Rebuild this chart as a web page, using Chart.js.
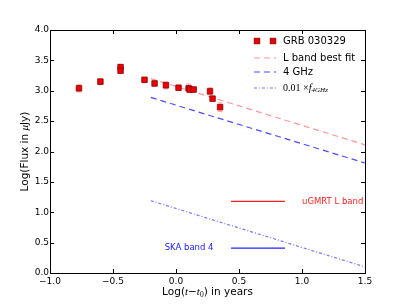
<!DOCTYPE html>
<html>
<head>
<meta charset="utf-8">
<script src="https://cdn.jsdelivr.net/npm/chart.js@4.4.0/dist/chart.umd.min.js"></script>
<style>
  html, body { margin: 0; padding: 0; background: #fff; }
  #wrap { width: 405px; height: 304px; }
</style>
</head>
<body>
<div id="wrap"><canvas id="grbChart" width="405" height="304"></canvas></div>
<script>
// GRB 030329 L band points: log(t - t0) in years, log flux in uJy
const grbX = [-0.77, -0.60, -0.44, -0.44, -0.25, -0.17, -0.08, 0.02, 0.10, 0.11, 0.14, 0.27, 0.29, 0.35];
const grbY = [3.04, 3.15, 3.39, 3.33, 3.18, 3.12, 3.09, 3.05, 3.04, 3.02, 3.02, 2.99, 2.87, 2.73];
const grbErr = [0.06, 0.05, 0.04, 0.04, 0.04, 0.04, 0.06, 0.04, 0.07, 0.05, 0.04, 0.06, 0.04, 0.07];

// model lines (start / end)
const lineX = [-0.2, 1.5];
const lbandFitY = [3.20, 2.11];
const ghz4Y = [2.89, 1.81];
const ghz4ScaledY = [1.19, 0.10];

// sensitivity limits
const limitX = [0.437, 0.865];
const ugmrtY = 1.18;
const skaY = 0.41;

const xTicks = [-1.0, -0.5, 0.0, 0.5, 1.0, 1.5];
const yTicks = [0.0, 0.5, 1.0, 1.5, 2.0, 2.5, 3.0, 3.5, 4.0];

const SANS = '"DejaVu Sans", sans-serif';
const SERIF = '"Liberation Serif", serif';

function fmt(v) {
  return v.toFixed(1).replace('-', '\u2212');
}

function pairs(xs, ys) {
  return xs.map((x, i) => ({ x: x, y: ys[i] }));
}

// draw text made of several runs (font changes, subscripts)
function drawRuns(ctx, runs, x, y) {
  let total = 0;
  runs.forEach(r => { ctx.font = r.font; total += ctx.measureText(r.text).width; });
  let cx = x - total / 2;
  ctx.textAlign = 'left';
  ctx.textBaseline = 'alphabetic';
  runs.forEach(r => {
    ctx.font = r.font;
    ctx.fillText(r.text, cx, y + (r.dy || 0));
    cx += ctx.measureText(r.text).width;
  });
}

function runsLeft(ctx, runs, x, y) {
  ctx.textAlign = 'left';
  ctx.textBaseline = 'middle';
  let cx = x;
  runs.forEach(r => {
    ctx.font = r.font;
    ctx.fillText(r.text, cx, y + (r.dy || 0));
    cx += ctx.measureText(r.text).width;
  });
}

const extras = {
  id: 'extras',
  beforeDatasetsDraw(chart) {
    const ctx = chart.ctx;
    const xs = chart.scales.x, ys = chart.scales.y;
    ctx.save();
    ctx.strokeStyle = 'rgba(255, 90, 90, 0.55)';
    ctx.lineWidth = 1;
    grbX.forEach((x, i) => {
      const px = xs.getPixelForValue(x);
      const top = ys.getPixelForValue(grbY[i] + grbErr[i]);
      const bot = ys.getPixelForValue(grbY[i] - grbErr[i]);
      ctx.beginPath();
      ctx.moveTo(px, top); ctx.lineTo(px, bot);
      ctx.moveTo(px - 2.5, top); ctx.lineTo(px + 2.5, top);
      ctx.moveTo(px - 2.5, bot); ctx.lineTo(px + 2.5, bot);
      ctx.stroke();
    });
    ctx.restore();
  },
  afterDraw(chart) {
    const ctx = chart.ctx;
    const a = chart.chartArea;
    const xs = chart.scales.x, ys = chart.scales.y;
    ctx.save();

    // frame and inward ticks on all sides
    ctx.strokeStyle = '#000';
    ctx.lineWidth = 1;
    ctx.strokeRect(Math.round(a.left) + 0.5, Math.round(a.top) + 0.5,
      Math.round(a.right - a.left), Math.round(a.bottom - a.top));
    ctx.beginPath();
    xTicks.forEach(v => {
      const px = Math.round(xs.getPixelForValue(v)) + 0.5;
      ctx.moveTo(px, a.bottom); ctx.lineTo(px, a.bottom - 4);
      ctx.moveTo(px, a.top); ctx.lineTo(px, a.top + 4);
    });
    yTicks.forEach(v => {
      const py = Math.round(ys.getPixelForValue(v)) + 0.5;
      ctx.moveTo(a.left, py); ctx.lineTo(a.left + 4, py);
      ctx.moveTo(a.right, py); ctx.lineTo(a.right - 4, py);
    });
    ctx.stroke();

    // axis titles
    ctx.fillStyle = '#000';
    const tFont = '10.5px ' + SANS;
    const mFont = 'italic 11px ' + SERIF;
    drawRuns(ctx, [
      { text: 'Log(', font: tFont },
      { text: 't', font: mFont },
      { text: '\u2212', font: tFont },
      { text: 't', font: mFont },
      { text: '0', font: '7.5px ' + SERIF, dy: 2 },
      { text: ') in years', font: tFont }
    ], (a.left + a.right) / 2, 295);

    ctx.save();
    ctx.translate(28, (a.top + a.bottom) / 2);
    ctx.rotate(-Math.PI / 2);
    drawRuns(ctx, [
      { text: 'Log(Flux in ', font: tFont },
      { text: '\u03bc', font: mFont },
      { text: 'Jy)', font: tFont }
    ], 0, 0);
    ctx.restore();

    // legend
    const mx = a.right - 108;
    const tx = a.right - 82;
    const rows = [a.top + 11, a.top + 28, a.top + 42, a.top + 58];
    ctx.fillStyle = '#ee0000';
    ctx.strokeStyle = '#880000';
    ctx.lineWidth = 0.8;
    [mx, mx + 16].forEach(x => {
      ctx.fillRect(x - 2.8, rows[0] - 2.8, 5.6, 5.6);
      ctx.strokeRect(x - 2.8, rows[0] - 2.8, 5.6, 5.6);
    });
    const legLines = [
      { color: 'rgba(255, 80, 80, 0.6)', dash: [6, 4] },
      { color: 'rgba(30, 30, 255, 0.8)', dash: [6, 4] },
      { color: 'rgba(60, 60, 255, 0.7)', dash: [3, 2, 1, 2] }
    ];
    legLines.forEach((l, i) => {
      ctx.strokeStyle = l.color;
      ctx.lineWidth = 1.2;
      ctx.setLineDash(l.dash);
      ctx.beginPath();
      ctx.moveTo(mx - 3, rows[i + 1]);
      ctx.lineTo(mx + 19, rows[i + 1]);
      ctx.stroke();
    });
    ctx.setLineDash([]);
    ctx.fillStyle = '#000';
    const lFont = '10px ' + SANS;
    runsLeft(ctx, [{ text: 'GRB 030329', font: lFont }], tx, rows[0]);
    runsLeft(ctx, [{ text: 'L band best fit', font: lFont }], tx, rows[1]);
    runsLeft(ctx, [{ text: '4 GHz', font: lFont }], tx, rows[2]);
    runsLeft(ctx, [
      { text: '0.01 \u00d7', font: '10px ' + SERIF },
      { text: 'f', font: 'italic 10.5px ' + SERIF },
      { text: '4GHz', font: 'italic 7px ' + SERIF, dy: 2 }
    ], tx, rows[3]);

    // limit labels
    ctx.font = '8.5px ' + SANS;
    ctx.textAlign = 'left';
    ctx.textBaseline = 'middle';
    ctx.fillStyle = '#ff2020';
    ctx.fillText('uGMRT L band', xs.getPixelForValue(1.0), ys.getPixelForValue(ugmrtY));
    ctx.fillStyle = '#2020ff';
    ctx.fillText('SKA band 4', xs.getPixelForValue(-0.09), ys.getPixelForValue(skaY));

    ctx.restore();
  }
};

new Chart(document.getElementById('grbChart'), {
  type: 'scatter',
  data: {
    datasets: [
      {
        label: 'GRB 030329',
        data: pairs(grbX, grbY),
        pointStyle: 'rect',
        pointRadius: 3.9,
        backgroundColor: '#ee0000',
        borderColor: '#880000',
        borderWidth: 0.8,
        order: 0
      },
      {
        label: 'L band best fit',
        data: pairs(lineX, lbandFitY),
        showLine: true,
        pointRadius: 0,
        borderColor: 'rgba(255, 80, 80, 0.6)',
        borderWidth: 1.2,
        borderDash: [6, 4],
        order: 1
      },
      {
        label: '4 GHz',
        data: pairs(lineX, ghz4Y),
        showLine: true,
        pointRadius: 0,
        borderColor: 'rgba(30, 30, 255, 0.8)',
        borderWidth: 1.2,
        borderDash: [6, 4],
        order: 1
      },
      {
        label: '0.01 x f4GHz',
        data: pairs(lineX, ghz4ScaledY),
        showLine: true,
        pointRadius: 0,
        borderColor: 'rgba(60, 60, 255, 0.7)',
        borderWidth: 1.2,
        borderDash: [3, 2, 1, 2],
        order: 1
      },
      {
        label: 'uGMRT L band',
        data: pairs(limitX, [ugmrtY, ugmrtY]),
        showLine: true,
        pointRadius: 0,
        borderColor: '#ff2020',
        borderWidth: 1.2,
        order: 1
      },
      {
        label: 'SKA band 4',
        data: pairs(limitX, [skaY, skaY]),
        showLine: true,
        pointRadius: 0,
        borderColor: '#2020ff',
        borderWidth: 1.2,
        order: 1
      }
    ]
  },
  options: {
    responsive: false,
    animation: false,
    layout: { padding: { top: 30, right: 40, left: 0, bottom: 0 } },
    plugins: {
      legend: { display: false },
      tooltip: { enabled: false }
    },
    scales: {
      x: {
        type: 'linear',
        min: -1.0,
        max: 1.5,
        afterBuildTicks: s => { s.ticks = xTicks.map(v => ({ value: v })); },
        afterFit: s => { s.height = 31; },
        grid: { display: false, drawTicks: false },
        border: { display: false },
        ticks: {
          autoSkip: false,
          maxRotation: 0,
          padding: 3,
          color: '#000',
          font: { family: SANS, size: 9 },
          callback: v => fmt(v)
        }
      },
      y: {
        type: 'linear',
        min: 0,
        max: 4.0,
        afterBuildTicks: s => { s.ticks = yTicks.map(v => ({ value: v })); },
        afterFit: s => { s.width = 50; },
        grid: { display: false, drawTicks: false },
        border: { display: false },
        ticks: {
          autoSkip: false,
          padding: 1,
          color: '#000',
          font: { family: SANS, size: 9 },
          callback: v => fmt(v)
        }
      }
    }
  },
  plugins: [extras]
});
</script>
</body>
</html>
